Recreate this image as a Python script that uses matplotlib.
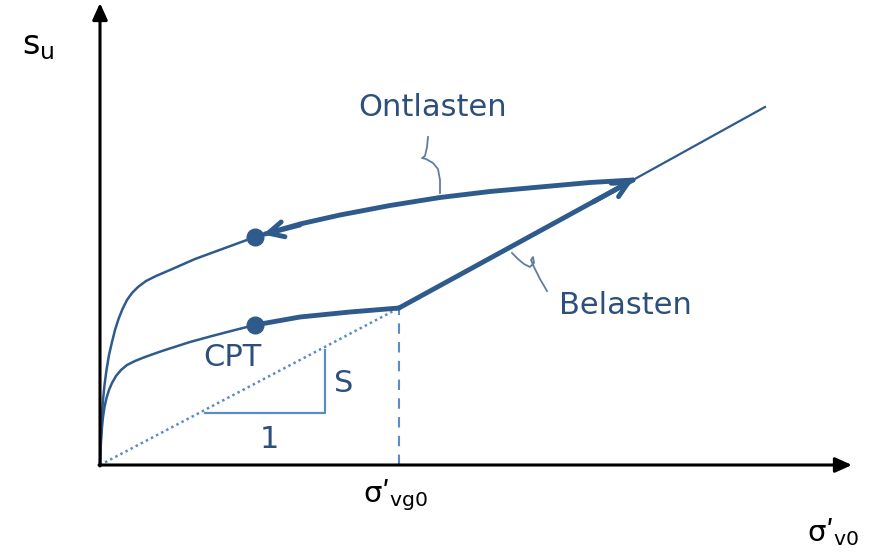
import matplotlib
matplotlib.use("Agg")
import matplotlib.pyplot as plt

plt.rcParams['mathtext.fontset'] = 'dejavusans'

# Schematic data (x = sigma'_v0, y = s_u), origin at axes crossing
upper_x = [0, 0.5, 1, 2, 3, 4.5, 6.5, 9, 12, 15, 18.5, 22.5, 27, 32, 38, 46, 56, 70, 95, 125, 155]
upper_y = [0, 15, 30, 50, 65, 80, 95, 110, 123, 135, 146, 156, 165, 172, 178, 184, 189, 195, 206, 217, 228]
lower_x = [0, 0.5, 1, 2, 3, 4.5, 6.5, 9, 12, 16, 21, 27, 35, 45, 62, 90, 112, 135, 155]
lower_y = [0, 12, 24, 38, 48, 58, 67, 75, 82, 89, 95, 100, 104, 108, 114, 123, 129, 135, 140]
cpt_x = [155, 200, 250, 299]
cpt_y = [140, 148, 153, 157]
load_x = [299, 533]
load_y = [157, 285]
ncl_x = [533, 665]
ncl_y = [285, 358]
unload_x = [533, 490, 440, 390, 340, 290, 240, 200, 165]
unload_y = [285, 282.5, 278, 273.5, 267.5, 259.5, 250, 241, 231]
sigma_vg0 = 299
cpt_points_x = [155, 155]
cpt_points_y = [228, 140]

col = '#2f5b8c'
light = '#5a8cc6'
txt = '#2d4f7c'

fig = plt.figure(figsize=(8.69, 5.52), dpi=100)
ax = fig.add_axes([0, 0, 1, 1])
ax.set_xlim(-100, 769)
ax.set_ylim(-87, 465)
ax.axis('off')

# axes arrows
ax.annotate('', xy=(0, 462), xytext=(0, -1),
            arrowprops=dict(arrowstyle='-|>,head_length=1.0,head_width=0.45', color='black', lw=2.2, shrinkA=0, shrinkB=0))
ax.annotate('', xy=(752, 0), xytext=(-1, 0),
            arrowprops=dict(arrowstyle='-|>,head_length=1.0,head_width=0.45', color='black', lw=2.2, shrinkA=0, shrinkB=0))

# dotted line origin to knee
ax.plot([0, sigma_vg0], [0, cpt_y[-1]], color=light, lw=1.8, ls=(0, (1, 1.3)))
# dashed vertical
ax.plot([sigma_vg0, sigma_vg0], [0, cpt_y[-1]], color=light, lw=1.5, ls=(0, (5, 4)))

# slope triangle
ax.plot([105, 225, 225], [52, 52, 115], color=light, lw=1.6)
ax.text(244, 82, 'S', color=txt, fontsize=22, ha='center', va='center')
ax.text(169, 25, '1', color=txt, fontsize=22, ha='center', va='center')

# curves
ax.plot(upper_x, upper_y, color=col, lw=1.8, solid_capstyle='round', solid_joinstyle='round')
ax.plot(lower_x, lower_y, color=col, lw=1.8, solid_capstyle='round', solid_joinstyle='round')
ax.plot(cpt_x, cpt_y, color=col, lw=3.5, solid_capstyle='round', solid_joinstyle='round')
ax.plot(load_x, load_y, color=col, lw=3.5, solid_capstyle='round')
ax.plot(ncl_x, ncl_y, color=col, lw=1.6)
ax.plot(unload_x, unload_y, color=col, lw=3.5, solid_capstyle='round', solid_joinstyle='round')
ax.plot(cpt_points_x, cpt_points_y, 'o', color=col, ms=12, zorder=5)

# arrowheads
ax.annotate('', xy=(load_x[1], load_y[1]), xytext=(load_x[1] - 40, load_y[1] - 22),
            arrowprops=dict(arrowstyle='->,head_length=1.1,head_width=0.55', color=col, lw=3.5, shrinkA=0, shrinkB=0))
ax.annotate('', xy=(163, 230.5), xytext=(200, 240),
            arrowprops=dict(arrowstyle='->,head_length=1.1,head_width=0.55', color=col, lw=3.5, shrinkA=0, shrinkB=0))

# leader squiggles
ax.plot([328, 327, 325, 322, 326, 333, 338, 340, 340], [328, 318, 309, 307, 306, 302, 296, 285, 272],
        color='#5f7e9e', lw=1.3)
ax.plot([412, 418, 424, 430, 434, 433, 431, 434, 440, 447], [212, 206, 201, 198, 202, 208, 205, 198, 186, 174],
        color='#5f7e9e', lw=1.3)

ax.text(333, 357, 'Ontlasten', color=txt, fontsize=22, ha='center', va='center')
ax.text(525, 160, 'Belasten', color=txt, fontsize=22, ha='center', va='center')
ax.text(132, 107, 'CPT', color=txt, fontsize=22, ha='center', va='center')

ax.text(-62, 420, r"$\mathregular{s_u}$", color='black', fontsize=24, ha='center', va='center')
ax.text(296, -30, "σʹ$_{\\mathregular{vg0}}$", color='black', fontsize=21, ha='center', va='center')
ax.text(733, -67, "σʹ$_{\\mathregular{v0}}$", color='black', fontsize=21, ha='center', va='center')

fig.savefig('out.png', dpi=100)
